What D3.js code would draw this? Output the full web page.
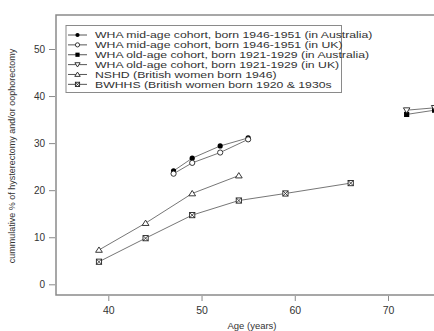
<!DOCTYPE html>
<html>
<head>
<meta charset="utf-8">
<script src="https://cdn.jsdelivr.net/npm/d3@7"></script>
<style>
  body { margin: 0; background: #fff; }
  svg text { font-family: "Liberation Sans", Arial, sans-serif; fill: #333; }
</style>
</head>
<body>
<div id="chart"></div>
<script>
// series: age (years) and cumulative %
const whaMidAus = { ages: [47, 49, 52, 55], values: [24.1, 26.8, 29.4, 31.1] };
const whaMidUK = { ages: [47, 49, 52, 55], values: [23.5, 25.8, 28.0, 30.8] };
const whaOldAus = { ages: [72, 75], values: [36.1, 37.0] };
const whaOldUK = { ages: [72, 75], values: [37.0, 37.5] };
const nshd = { ages: [39, 44, 49, 54], values: [7.3, 13.0, 19.3, 23.1] };
const bwhhs = { ages: [39, 44, 49, 54, 59, 66], values: [4.8, 9.8, 14.7, 17.8, 19.3, 21.5] };

const legendLabels = [
    'WHA mid-age cohort, born 1946-1951 (in Australia)',
    'WHA mid-age cohort, born 1946-1951 (in UK)',
    'WHA old-age cohort, born 1921-1929 (in Australia)',
    'WHA old-age cohort, born 1921-1929 (in UK)',
    'NSHD (British women born 1946)',
    'BWHHS (British women born 1920 & 1930s'
];
const markerTypes = ['dot', 'circle', 'square', 'tridown', 'triangle', 'boxx'];
const seriesList = [whaMidAus, whaMidUK, whaOldAus, whaOldUK, nshd, bwhhs];

const xTicks = [40, 50, 60, 70];
const yTicks = [0, 10, 20, 30, 40, 50];

const width = 434, height = 331;
const svg = d3.select('#chart').append('svg')
    .attr('width', width).attr('height', height);

// frame edges (right side falls outside the picture)
const frameL = 56, frameT = 15, frameB = 295, frameR = 448;

const x = d3.scaleLinear().domain([40, 70]).range([108.3, 388]);
const y = d3.scaleLinear().domain([0, 50]).range([284.3, 49]);

const axisColor = '#8a8a8a';

// box: left, top, bottom
svg.append('path')
    .attr('d', `M${frameR},${frameT}H${frameL}V${frameB}H${frameR}`)
    .attr('fill', 'none')
    .attr('stroke', axisColor)
    .attr('stroke-width', 1.5);

// y axis ticks
const yAxis = svg.append('g').attr('transform', `translate(${frameL - 1},0)`)
    .call(d3.axisLeft(y).tickValues(yTicks).tickSize(6).tickPadding(4));
yAxis.select('.domain').remove();
yAxis.selectAll('line').attr('stroke', axisColor);
yAxis.selectAll('text').style('font-size', '10px').attr('fill', '#444');

// x axis ticks
const xAxis = svg.append('g').attr('transform', `translate(0,${frameB + 1})`)
    .call(d3.axisBottom(x).tickValues(xTicks).tickSize(5).tickPadding(6));
xAxis.select('.domain').remove();
xAxis.selectAll('line').attr('stroke', axisColor);
xAxis.selectAll('text').style('font-size', '10.5px').attr('fill', '#444');

// axis titles
svg.append('text')
    .attr('x', 252).attr('y', 329)
    .attr('text-anchor', 'middle')
    .style('font-size', '9.5px')
    .text('Age (years)');

svg.append('text')
    .attr('transform', 'translate(15,156) rotate(-90)')
    .attr('text-anchor', 'middle')
    .style('font-size', '9px')
    .text('cummulative % of hysterectomy and/or oophorectomy');

// marker drawing
function drawMarker(g, type, cx, cy, s) {
    s = s || 2.6;
    if (type === 'dot') {
        g.append('circle').attr('cx', cx).attr('cy', cy).attr('r', s)
            .attr('fill', '#000');
    } else if (type === 'circle') {
        g.append('circle').attr('cx', cx).attr('cy', cy).attr('r', s)
            .attr('fill', '#fff').attr('stroke', '#222').attr('stroke-width', 0.9);
    } else if (type === 'square') {
        g.append('rect').attr('x', cx - s).attr('y', cy - s)
            .attr('width', 2 * s).attr('height', 2 * s).attr('fill', '#000');
    } else if (type === 'tridown') {
        g.append('path')
            .attr('d', `M${cx - 1.25 * s},${cy - 0.9 * s}L${cx + 1.25 * s},${cy - 0.9 * s}L${cx},${cy + 1.15 * s}Z`)
            .attr('fill', '#fff').attr('stroke', '#222').attr('stroke-width', 0.9);
    } else if (type === 'triangle') {
        g.append('path')
            .attr('d', `M${cx - 1.3 * s},${cy + 0.9 * s}L${cx + 1.3 * s},${cy + 0.9 * s}L${cx},${cy - 1.15 * s}Z`)
            .attr('fill', '#fff').attr('stroke', '#222').attr('stroke-width', 0.9);
    } else if (type === 'boxx') {
        g.append('rect').attr('x', cx - s).attr('y', cy - s)
            .attr('width', 2 * s).attr('height', 2 * s)
            .attr('fill', '#fff').attr('stroke', '#222').attr('stroke-width', 0.9);
        g.append('path')
            .attr('d', `M${cx - s},${cy - s}L${cx + s},${cy + s}M${cx + s},${cy - s}L${cx - s},${cy + s}`)
            .attr('stroke', '#222').attr('stroke-width', 0.8);
    }
}

// series lines and markers
const line = d3.line().x(d => x(d[0])).y(d => y(d[1]));
seriesList.forEach((s, i) => {
    const pts = s.ages.map((a, j) => [a, s.values[j]]);
    svg.append('path')
        .attr('d', line(pts))
        .attr('fill', 'none')
        .attr('stroke', '#666')
        .attr('stroke-width', 0.9);
    const g = svg.append('g');
    pts.forEach(p => drawMarker(g, markerTypes[i], x(p[0]), y(p[1])));
});

// legend
const legend = svg.append('g');
legend.append('rect')
    .attr('x', 66).attr('y', 25.5)
    .attr('width', 275.5).attr('height', 67)
    .attr('fill', '#fff')
    .attr('stroke', axisColor)
    .attr('stroke-width', 1);

legendLabels.forEach((label, i) => {
    const ly = 35 + i * 9.87;
    legend.append('line')
        .attr('x1', 68).attr('x2', 87).attr('y1', ly).attr('y2', ly)
        .attr('stroke', '#444').attr('stroke-width', 0.9);
    drawMarker(legend, markerTypes[i], 77.5, ly, 2.1);
    // reference font is drawn wide, so stretch horizontally
    legend.append('text')
        .attr('transform', `translate(95,${ly}) scale(1.25,1)`)
        .attr('dy', '0.35em')
        .style('font-size', '9.8px')
        .text(label);
});
</script>
</body>
</html>
